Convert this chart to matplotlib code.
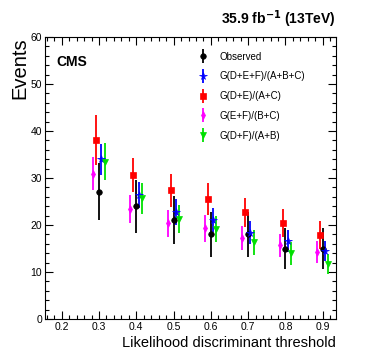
import numpy as np
import matplotlib
matplotlib.use("Agg")
import matplotlib.pyplot as plt
from matplotlib.ticker import MultipleLocator
from matplotlib.lines import Line2D

plt.rcParams['font.family'] = ['Liberation Sans', 'DejaVu Sans']

# порог дискриминанта
thresholds = np.array([0.3, 0.4, 0.5, 0.6, 0.7, 0.8, 0.9])

# наблюдение
obs = [27.1, 24.0, 21.1, 18.0, 18.0, 15.0, 15.0]
obs_err = [6.0, 5.6, 5.1, 4.7, 4.7, 4.4, 4.4]

# G(D+E+F)/(A+B+C)
def_abc = [34.0, 26.4, 22.8, 21.1, 18.4, 16.6, 14.5]
def_abc_err = [3.3, 2.8, 2.7, 2.5, 2.4, 2.3, 2.1]

# G(D+E)/(A+C)
de_ac = [38.1, 30.6, 27.4, 25.5, 22.7, 20.4, 17.9]
de_ac_err = [5.3, 3.6, 3.5, 3.4, 3.1, 3.0, 3.0]

# G(E+F)/(B+C)
ef_bc = [30.9, 23.5, 20.4, 19.3, 17.2, 15.7, 14.3]
ef_bc_err = [3.5, 3.0, 2.9, 2.8, 2.5, 2.5, 2.4]

# G(D+F)/(A+B)
df_ab = [33.5, 25.7, 21.3, 19.1, 16.3, 14.0, 11.7]
df_ab_err = [3.9, 3.3, 2.9, 2.8, 2.6, 2.5, 2.2]

series = [
    ("Observed", obs, obs_err, 'o', 'black', 0.0, 4.0),
    ("G(D+E+F)/(A+B+C)", def_abc, def_abc_err, '*', 'blue', 0.006, 5.5),
    ("G(D+E)/(A+C)", de_ac, de_ac_err, 's', 'red', -0.0075, 4.2),
    ("G(E+F)/(B+C)", ef_bc, ef_bc_err, 'd', '#ff00ff', -0.016, 4.2),
    ("G(D+F)/(A+B)", df_ab, df_ab_err, 'v', '#00e000', 0.015, 5.0),
]

fig = plt.figure(figsize=(3.74, 3.63), dpi=100)
ax = fig.add_axes([0.120, 0.121, 0.778, 0.777])

handles = []
labels = []
for label, vals, errs, mk, col, dx, ms in series:
    ax.errorbar(thresholds + dx, vals, yerr=errs, fmt=mk, color=col,
                ecolor=col, elinewidth=1.3, capsize=0, markersize=ms,
                markeredgewidth=0.5)
    # значок для легенды: вертикальная черта + маркер
    bar = Line2D([], [], linestyle='None', marker='|', markersize=10,
                 markeredgewidth=1.3, color=col)
    dot = Line2D([], [], linestyle='None', marker=mk, markersize=ms,
                 markeredgewidth=0.5, color=col)
    handles.append((bar, dot))
    labels.append(label)

ax.set_xlim(0.155, 0.935)
ax.set_ylim(0, 60)

ax.xaxis.set_major_locator(MultipleLocator(0.1))
ax.xaxis.set_minor_locator(MultipleLocator(0.02))
ax.yaxis.set_major_locator(MultipleLocator(10))
ax.yaxis.set_minor_locator(MultipleLocator(2))
ax.tick_params(which='both', direction='in', top=True, right=True,
               labelsize=7.5, width=0.8, pad=2)
ax.tick_params(which='major', length=6)
ax.tick_params(which='minor', length=3)
for s in ax.spines.values():
    s.set_linewidth(0.8)

ax.set_ylabel("Events", fontsize=14.5, loc='top', labelpad=1)
ax.set_xlabel("Likelihood discriminant threshold", fontsize=10.5,
              loc='right', labelpad=3)

ax.text(0.04, 0.935, "CMS", transform=ax.transAxes, fontsize=10,
        fontweight='bold', va='top', ha='left')
ax.text(1.0, 1.025, r"35.9 fb$^{\mathbf{-1}}$ (13TeV)", transform=ax.transAxes,
        fontsize=10, fontweight='bold', va='bottom', ha='right')

ax.legend(handles=handles, labels=labels, loc='upper left',
          bbox_to_anchor=(0.505, 0.962), frameon=False, fontsize=7,
          labelspacing=1.0, handlelength=1.5, handletextpad=0.9,
          borderaxespad=0.0)

fig.savefig("out.png", dpi=100)
